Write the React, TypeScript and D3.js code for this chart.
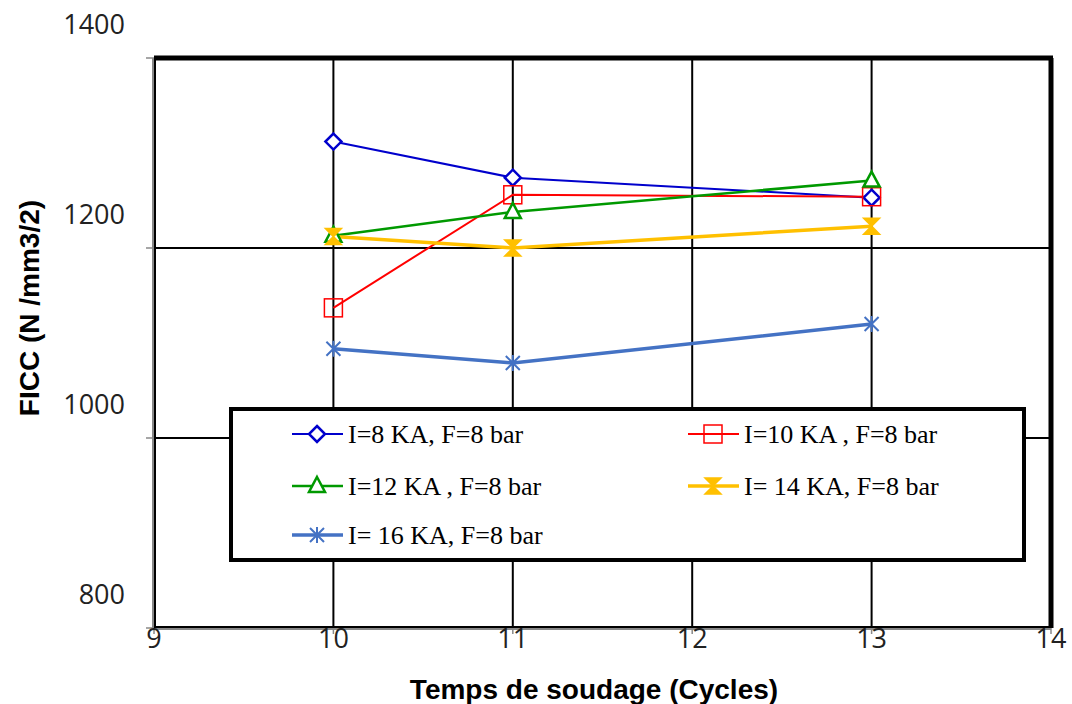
import React, { useEffect, useRef } from 'react'
import * as d3 from 'd3'

const cycles = [10, 11, 13]
const seriesNames = ['I=8 KA, F=8 bar', 'I=10 KA , F=8 bar', 'I=12 KA , F=8 bar', 'I= 14 KA, F=8 bar', 'I= 16 KA, F=8 bar']
const i8 = [1312, 1274, 1253]
const i10 = [1137, 1256, 1254]
const i12 = [1213, 1238, 1271]
const i14 = [1212, 1200, 1223]
const i16 = [1094, 1079, 1120]
const xTicks = [9, 10, 11, 12, 13, 14]
const yTicks = [800, 1000, 1200, 1400]

const seriesColors = ['#0000CC', '#FF0000', '#009900', '#FFC000', '#4472C4']
const seriesWidths = [2, 2, 2.5, 3.5, 3.5]
const markerKinds = ['diamond', 'square', 'triangle', 'hourglass', 'star']

export default function App() {
    const ref = useRef<HTMLDivElement>(null)

    useEffect(() => {
        const root = d3.select(ref.current)
        root.selectAll('*').remove()
        const svg = root.append('svg')
            .attr('width', 1072).attr('height', 704)
            .style('position', 'absolute').style('left', 0).style('top', 0)
            .style('background', '#fff')

        const x = d3.scaleLinear().domain([9, 14]).range([154, 1051])
        const y = d3.scaleLinear().domain([800, 1400]).range([628, 58])

        // grid
        xTicks.slice(1, -1).forEach(t => {
            svg.append('line').attr('x1', x(t)).attr('x2', x(t)).attr('y1', y(1400)).attr('y2', y(800))
                .attr('stroke', '#000').attr('stroke-width', 2)
        })
        yTicks.slice(1, -1).forEach(t => {
            svg.append('line').attr('x1', x(9)).attr('x2', x(14)).attr('y1', y(t)).attr('y2', y(t))
                .attr('stroke', '#000').attr('stroke-width', 2)
        })

        // frame
        svg.append('line').attr('x1', x(9)).attr('x2', x(14) + 2).attr('y1', y(1400)).attr('y2', y(1400))
            .attr('stroke', '#000').attr('stroke-width', 5)
        svg.append('line').attr('x1', x(14)).attr('x2', x(14)).attr('y1', y(1400)).attr('y2', y(800))
            .attr('stroke', '#000').attr('stroke-width', 5)
        svg.append('line').attr('x1', x(9)).attr('x2', x(9)).attr('y1', y(1400)).attr('y2', y(800))
            .attr('stroke', '#888').attr('stroke-width', 4)
        svg.append('line').attr('x1', x(9) + 1).attr('x2', x(9) + 1).attr('y1', y(1400)).attr('y2', y(800))
            .attr('stroke', '#000').attr('stroke-width', 2)
        svg.append('line').attr('x1', x(9)).attr('x2', x(14)).attr('y1', y(800)).attr('y2', y(800))
            .attr('stroke', '#888').attr('stroke-width', 4)
        svg.append('line').attr('x1', x(9)).attr('x2', x(14)).attr('y1', y(800) - 1).attr('y2', y(800) - 1)
            .attr('stroke', '#000').attr('stroke-width', 2)

        // ticks and labels
        yTicks.forEach(t => {
            svg.append('line').attr('x1', x(9) - 8).attr('x2', x(9)).attr('y1', y(t)).attr('y2', y(t))
                .attr('stroke', '#888').attr('stroke-width', 1.5)
            svg.append('text').attr('x', 125).attr('y', y(t) - 33).attr('dy', '0.35em')
                .attr('text-anchor', 'end').style('font', '27px "Open Sans", sans-serif').style('fill', '#222')
                .text(t)
        })
        xTicks.forEach(t => {
            svg.append('line').attr('x1', x(t)).attr('x2', x(t)).attr('y1', y(800)).attr('y2', y(800) + 6)
                .attr('stroke', '#888').attr('stroke-width', 1.5)
            svg.append('text').attr('x', x(t)).attr('y', 639).attr('dy', '0.35em')
                .attr('text-anchor', 'middle').style('font', '27px "Open Sans", sans-serif').style('fill', '#222')
                .text(t)
        })

        svg.append('text').attr('x', 594).attr('y', 699).attr('text-anchor', 'middle')
            .style('font', 'bold 28px "Liberation Sans", Arial, sans-serif').text('Temps de soudage (Cycles)')
        svg.append('text').attr('transform', 'translate(39,308) rotate(-90)').attr('text-anchor', 'middle')
            .style('font', 'bold 28px "Liberation Sans", Arial, sans-serif').text('FICC (N /mm3/2)')

        const drawMarker = (g: any, kind: string, cx: number, cy: number, color: string) => {
            if (kind === 'diamond') {
                g.append('path').attr('d', `M${cx},${cy - 8}L${cx + 8},${cy}L${cx},${cy + 8}L${cx - 8},${cy}Z`)
                    .attr('fill', '#fff').attr('stroke', color).attr('stroke-width', 2.5)
            } else if (kind === 'square') {
                g.append('rect').attr('x', cx - 9).attr('y', cy - 9).attr('width', 18).attr('height', 18)
                    .attr('fill', 'none').attr('stroke', color).attr('stroke-width', 1.5)
            } else if (kind === 'triangle') {
                g.append('path').attr('d', `M${cx},${cy - 9}L${cx + 8},${cy + 6}L${cx - 8},${cy + 6}Z`)
                    .attr('fill', '#fff').attr('stroke', color).attr('stroke-width', 2.5)
            } else if (kind === 'hourglass') {
                g.append('path').attr('d', `M${cx - 8},${cy - 8}L${cx + 8},${cy - 8}L${cx},${cy}Z M${cx - 8},${cy + 8}L${cx + 8},${cy + 8}L${cx},${cy}Z`)
                    .attr('fill', color).attr('stroke', color).attr('stroke-width', 1.5)
            } else {
                g.append('path').attr('d', `M${cx - 7},${cy - 7}L${cx + 7},${cy + 7}M${cx - 7},${cy + 7}L${cx + 7},${cy - 7}M${cx},${cy - 8}L${cx},${cy + 8}`)
                    .attr('fill', 'none').attr('stroke', color).attr('stroke-width', 2)
            }
        }

        const allSeries = [i8, i10, i12, i14, i16]
        const line = d3.line<number>().x((_, i) => x(cycles[i])).y(d => y(d))
        allSeries.forEach((vals, s) => {
            svg.append('path').attr('d', line(vals)).attr('fill', 'none')
                .attr('stroke', seriesColors[s]).attr('stroke-width', seriesWidths[s])
        })
        allSeries.forEach((vals, s) => {
            vals.forEach((v, i) => drawMarker(svg, markerKinds[s], x(cycles[i]), y(v), seriesColors[s]))
        })

        // legend
        svg.append('rect').attr('x', 231).attr('y', 409).attr('width', 793).attr('height', 151)
            .attr('fill', '#fff').attr('stroke', '#000').attr('stroke-width', 4)
        const cols = [292, 688]
        const rows = [434, 486, 535]
        seriesNames.forEach((name, s) => {
            const cx = cols[s % 2]
            const cy = rows[Math.floor(s / 2)]
            svg.append('line').attr('x1', cx).attr('x2', cx + 51).attr('y1', cy).attr('y2', cy)
                .attr('stroke', seriesColors[s]).attr('stroke-width', seriesWidths[s])
            drawMarker(svg, markerKinds[s], cx + 25, cy, seriesColors[s])
            svg.append('text').attr('x', cx + 56).attr('y', cy).attr('dy', '0.35em')
                .style('font', '26px "Liberation Serif", "Times New Roman", serif').text(name)
        })
    }, [])

    return <div ref={ref} />
}
